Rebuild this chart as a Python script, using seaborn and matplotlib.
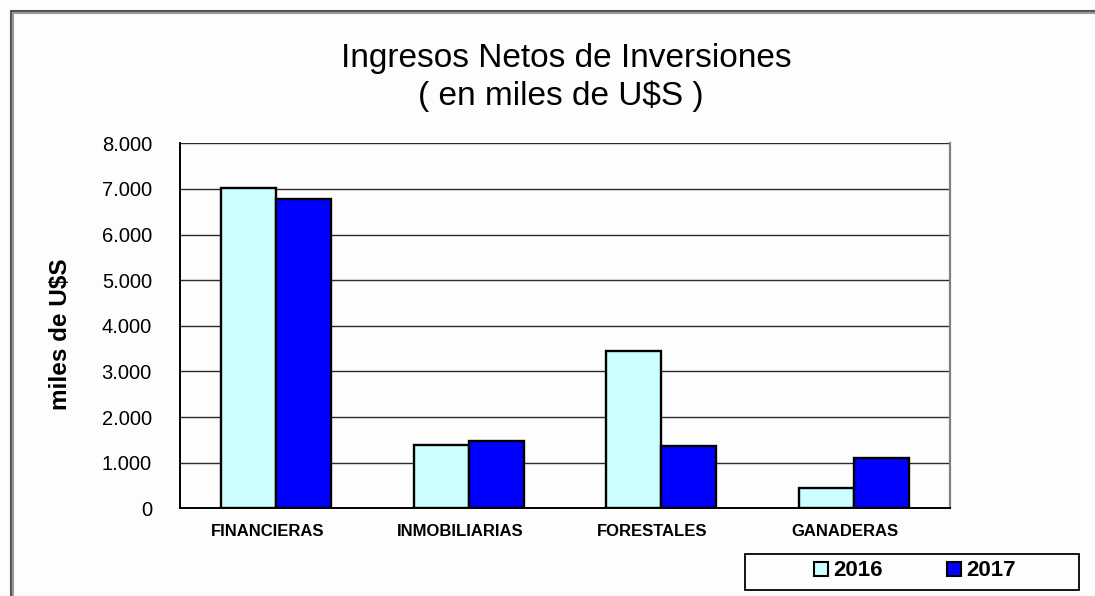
import matplotlib
matplotlib.use("Agg")
import matplotlib.pyplot as plt
from matplotlib.patches import Rectangle
from matplotlib.lines import Line2D
from matplotlib.ticker import FuncFormatter, MultipleLocator
import seaborn as sns
import pandas as pd

# Net investment income by sector (thousands of US$)
categories = ["FINANCIERAS", "INMOBILIARIAS", "FORESTALES", "GANADERAS"]
years = ["2016", "2017"]
values_2016 = [7020, 1380, 3450, 450]
values_2017 = [6770, 1485, 1375, 1100]
colors = {"2016": "#CCFFFF", "2017": "#0000FF"}

df = pd.DataFrame({
    "categoria": categories * 2,
    "anio": [years[0]] * len(categories) + [years[1]] * len(categories),
    "valor": values_2016 + values_2017,
})

sns.set_style("white")
plt.rcParams["font.family"] = ["Liberation Sans", "DejaVu Sans"]
plt.rcParams["text.color"] = "black"
plt.rcParams["xtick.color"] = "black"
plt.rcParams["ytick.color"] = "black"
plt.rcParams["axes.labelcolor"] = "black"

W, H = 1095, 596
fig = plt.figure(figsize=(W / 100, H / 100), dpi=100, facecolor="#FDFDFD")
ax = fig.add_axes([180 / W, 1 - 508.3 / H, (950 - 180) / W, (508.3 - 143.3) / H])
ax.set_facecolor("#FDFDFD")

sns.barplot(data=df, x="categoria", y="valor", hue="anio", order=categories,
            hue_order=years, palette=colors, saturation=1, width=0.57, gap=0,
            edgecolor="black", linewidth=1.7, legend=False, ax=ax, zorder=3)

ax.set_ylim(0, 8000)
ax.set_xlim(-0.5, len(categories) - 0.5)
ax.yaxis.set_major_locator(MultipleLocator(1000))
ax.yaxis.set_major_formatter(FuncFormatter(lambda v, p: f"{int(v):,}".replace(",", ".")))
ax.grid(axis="y", color="#2A2A2A", linewidth=1.0, zorder=0)
ax.set_axisbelow(True)

# category ticks sit on the boundaries between groups; names sit slightly left of centre
ax.set_xticks([i - 0.5 for i in range(len(categories) + 1)], minor=False)
ax.set_xticklabels([""] * (len(categories) + 1))
ax.set_xticks([i - 0.045 for i in range(len(categories))], minor=True)
ax.set_xticklabels(categories, minor=True, fontsize=12, fontweight="bold")
ax.tick_params(axis="x", which="major", direction="out", length=4, width=1.2, color="black")
ax.tick_params(axis="x", which="minor", length=0, pad=11)
ax.tick_params(axis="y", direction="out", length=5.8, width=1.0, color="black",
               labelsize=14.5, pad=14.4)
ax.set_xlabel("")
ax.set_ylabel("miles de U$S", fontsize=17.5, fontweight="bold")
ax.yaxis.set_label_coords((72 - 180) / 770, (508.3 - 334) / 365)

for side in ["left", "bottom"]:
    ax.spines[side].set_color("black")
    ax.spines[side].set_linewidth(1.4)
ax.spines["right"].set_color("#808080")
ax.spines["right"].set_linewidth(1.6)
ax.spines["top"].set_visible(False)

fig.text(566 / W, 1 - 66.5 / H, "Ingresos Netos de Inversiones", ha="center",
         va="baseline", fontsize=24)
fig.text(561 / W, 1 - 105 / H, "( en miles de U$S )", ha="center",
         va="baseline", fontsize=24)

# legend box at the lower right
fig.patches.append(Rectangle((745 / W, 1 - 590 / H), (1079 - 745) / W, 36 / H,
                             transform=fig.transFigure, facecolor="#FDFDFD",
                             edgecolor="black", linewidth=1.3))
handles = [Line2D([], [], marker="s", linestyle="none", markersize=9.5,
                  markerfacecolor=colors[y], markeredgecolor="black",
                  markeredgewidth=1.5) for y in years]
leg = fig.legend(handles, years, loc="center",
                 bbox_to_anchor=(915 / W, 1 - 571 / H), ncol=2, frameon=False,
                 prop={"size": 16, "weight": "bold"}, handlelength=0.6,
                 handletextpad=0.25, columnspacing=2.9)

# outer frame along the top and left edges
for off, col in [(10.5, "#555555"), (13, "#9A9A9A")]:
    fig.add_artist(Line2D([off / W, 1], [1 - off / H, 1 - off / H],
                          transform=fig.transFigure, color=col, linewidth=1.5))
    fig.add_artist(Line2D([off / W, off / W], [0, 1 - off / H],
                          transform=fig.transFigure, color=col, linewidth=1.5))

fig.savefig("out.png", dpi=100, facecolor=fig.get_facecolor())
